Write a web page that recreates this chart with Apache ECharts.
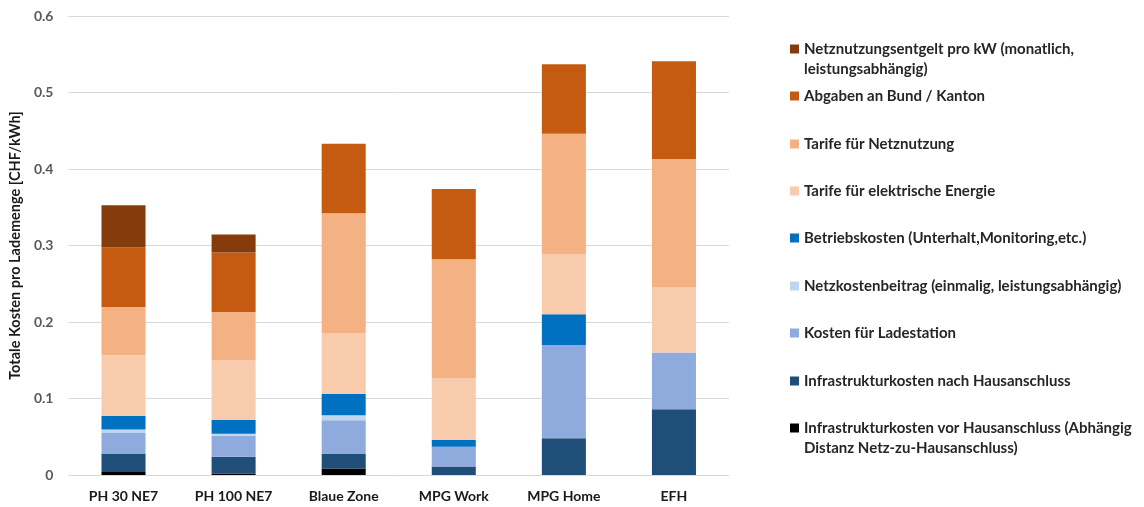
<!DOCTYPE html>
<html>
<head>
<meta charset="utf-8">
<script src="https://cdn.jsdelivr.net/npm/echarts@6/dist/echarts.min.js"></script>
<style>
  html, body { margin: 0; padding: 0; background: #fff; }
  #chart { width: 1144px; height: 507px; }
</style>
</head>
<body>
<div id="chart"></div>
<script>
// Charging-cost scenarios
const categories = ['PH 30 NE7', 'PH 100 NE7', 'Blaue Zone', 'MPG Work', 'MPG Home', 'EFH'];

// Cost components in CHF/kWh, stacked bottom to top
const infraVor      = [0.004, 0.002, 0.0085, 0, 0, 0];
const infraNach     = [0.024, 0.022, 0.019, 0.011, 0.048, 0.086];
const ladestation   = [0.027, 0.0274, 0.044, 0.026, 0.122, 0.074];
const netzkosten    = [0.0045, 0.0026, 0.0065, 0, 0, 0];
const betrieb       = [0.018, 0.018, 0.028, 0.009, 0.040, 0];
const tarifEnergie  = [0.079, 0.078, 0.079, 0.080, 0.079, 0.085];
const tarifNetz     = [0.063, 0.063, 0.157, 0.156, 0.157, 0.168];
const abgaben       = [0.078, 0.078, 0.091, 0.092, 0.091, 0.128];
const entgeltProKW  = [0.055, 0.0235, 0, 0, 0, 0];

const yTicks = [0, 0.1, 0.2, 0.3, 0.4, 0.5, 0.6];

const FONT = 'Lato, "Open Sans", sans-serif';

// name, values, colour, legend top, wrapped legend text
const components = [
  ['Netznutzungsentgelt pro kW (monatlich, leistungsabhängig)', entgeltProKW, '#843C0C', 19, 'Netznutzungsentgelt pro kW (monatlich,\nleistungsabhängig)'],
  ['Abgaben an Bund / Kanton', abgaben, '#C55A11', 86],
  ['Tarife für Netznutzung', tarifNetz, '#F4B183', 134],
  ['Tarife für elektrische Energie', tarifEnergie, '#F8CBAD', 181],
  ['Betriebskosten (Unterhalt,Monitoring,etc.)', betrieb, '#0070C0', 228],
  ['Netzkostenbeitrag (einmalig, leistungsabhängig)', netzkosten, '#BDD7EE', 276],
  ['Kosten für Ladestation', ladestation, '#8FAADC', 323],
  ['Infrastrukturkosten nach Hausanschluss', infraNach, '#1F4E79', 371],
  ['Infrastrukturkosten vor Hausanschluss (Abhängig Distanz Netz-zu-Hausanschluss)', infraVor, '#000000', 398, 'Infrastrukturkosten vor Hausanschluss (Abhängig\nDistanz Netz-zu-Hausanschluss)']
];

const stackOrder = components.slice().reverse();

const series = stackOrder.map(c => ({
  name: c[0],
  type: 'bar',
  stack: 'kosten',
  barWidth: '40%',
  data: c[1],
  itemStyle: { color: c[2] },
  emphasis: { disabled: true }
}));

// One legend entry per component so each sits at its own height.
// Wrapped entries get a leading blank line so the marker lines up with the first text line.
const legends = components.map(c => {
  const wrapped = c[4];
  return {
    show: true,
    orient: 'vertical',
    left: 790,
    top: c[3],
    data: [c[0]],
    itemWidth: 9,
    itemHeight: 9,
    itemGap: 0,
    padding: 0,
    icon: 'rect',
    selectedMode: false,
    formatter: () => wrapped ? ' \n' + wrapped : c[0],
    textStyle: {
      fontFamily: FONT,
      fontWeight: 'bold',
      fontSize: 15,
      color: '#262626',
      lineHeight: 20
    }
  };
});

const chart = echarts.init(document.getElementById('chart'), null, { renderer: 'canvas' });
chart.setOption({
  animation: false,
  backgroundColor: '#ffffff',
  textStyle: { fontFamily: FONT },
  legend: legends,
  grid: { left: 68, right: 415, top: 16, bottom: 32, containLabel: false },
  xAxis: {
    type: 'category',
    data: categories,
    axisLine: { show: true, lineStyle: { color: '#d9d9d9', width: 1 } },
    axisTick: { show: false },
    axisLabel: {
      margin: 14,
      fontFamily: FONT,
      fontWeight: 'bold',
      fontSize: 14,
      color: '#1a1a1a'
    }
  },
  yAxis: {
    type: 'value',
    min: yTicks[0],
    max: yTicks[yTicks.length - 1],
    interval: 0.1,
    name: 'Totale Kosten pro Lademenge [CHF/kWh]',
    nameLocation: 'middle',
    nameGap: 38,
    nameTextStyle: {
      fontFamily: FONT,
      fontWeight: 'bold',
      fontSize: 14.5,
      color: '#1a1a1a'
    },
    axisLine: { show: false },
    axisTick: { show: false },
    splitLine: { lineStyle: { color: '#d9d9d9', width: 1 } },
    axisLabel: {
      margin: 15,
      fontFamily: FONT,
      fontWeight: 'bold',
      fontSize: 14,
      color: '#595959',
      formatter: v => (v === 0 ? '0' : v.toFixed(1))
    }
  },
  series: series
});
</script>
</body>
</html>
